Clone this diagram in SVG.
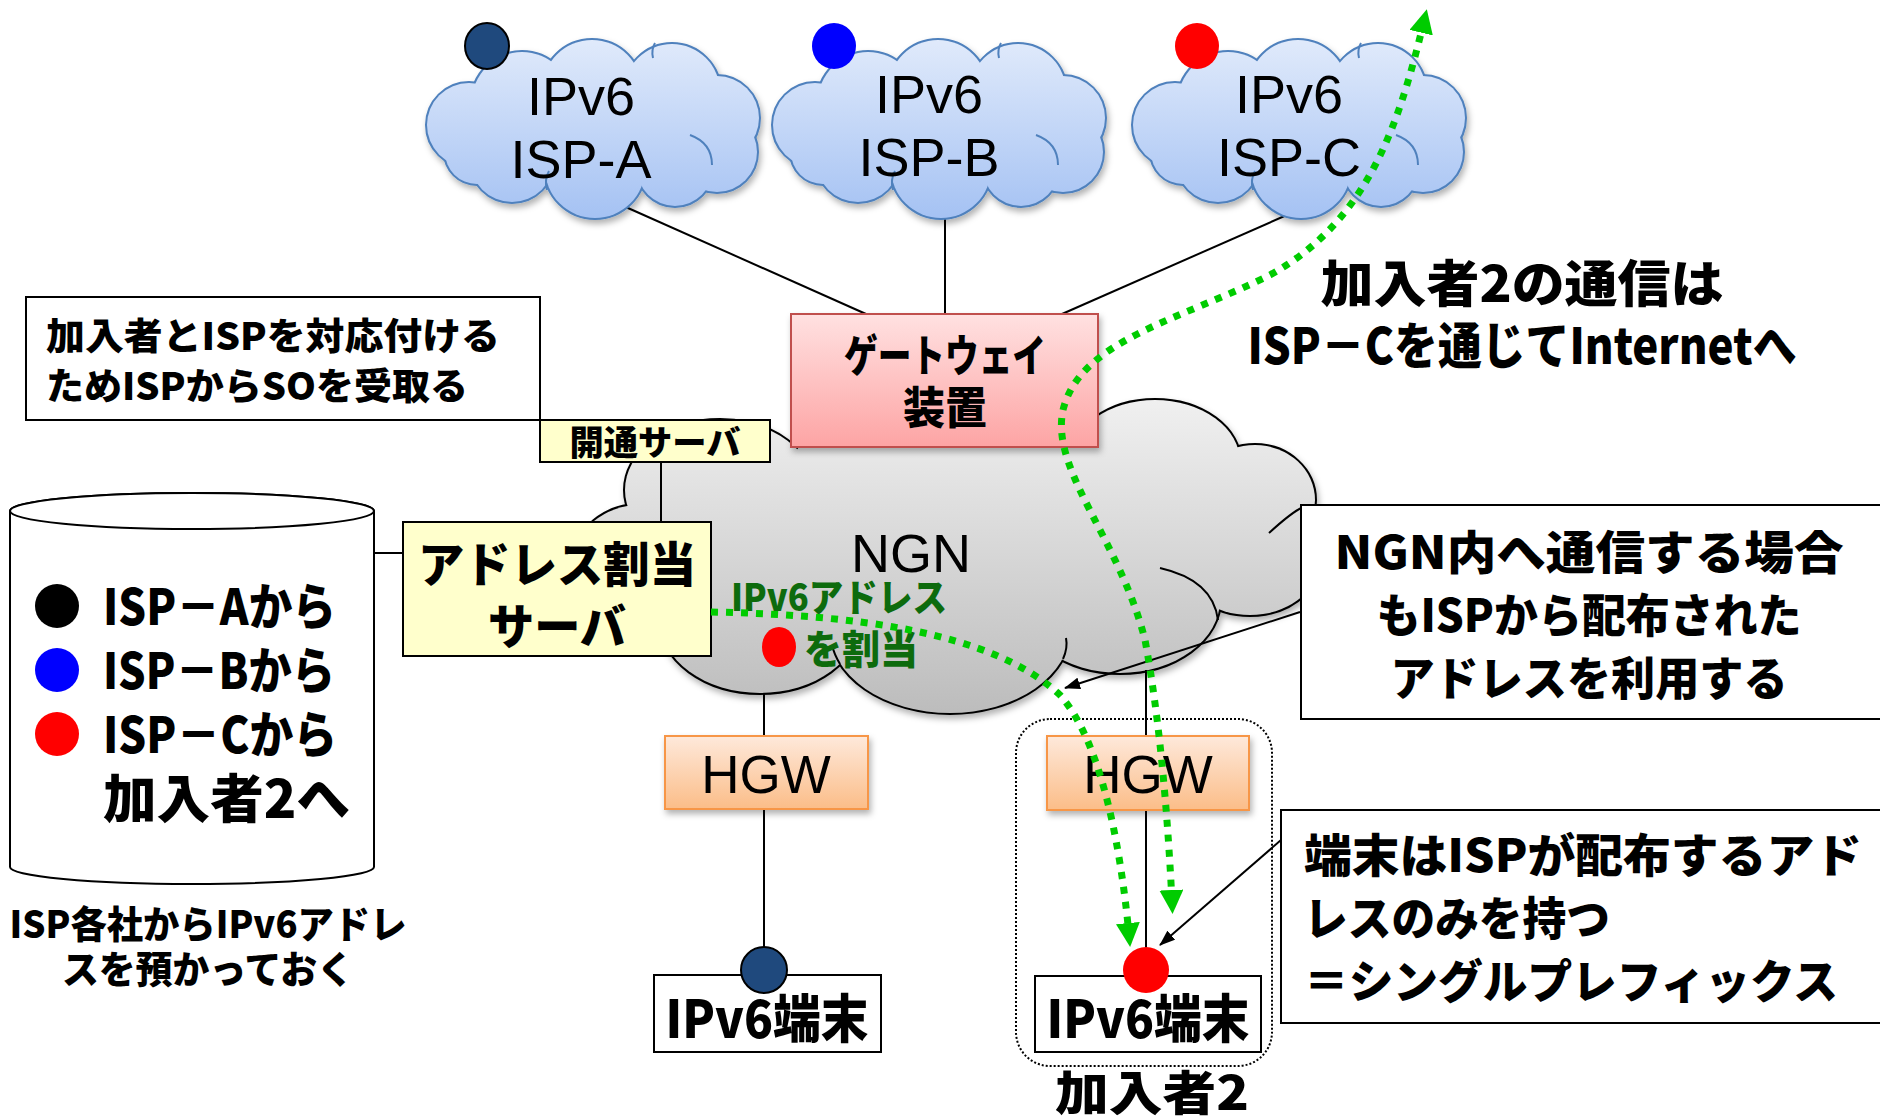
<svg xmlns="http://www.w3.org/2000/svg" xmlns:xlink="http://www.w3.org/1999/xlink" width="1880" height="1119" viewBox="0 0 1880 1119">
<style>
.jp{font-family:'Noto Sans CJK JP','Noto Sans CJK SC',sans-serif;font-weight:900;fill:#000}
.lat{font-family:'Liberation Sans',Arial,sans-serif;fill:#000}
.box{fill:#fff;stroke:#000;stroke-width:2}
.ybox{fill:#ffffcc;stroke:#000;stroke-width:2}
.ln{stroke:#000;stroke-width:2;fill:none}
.flow{fill:none;stroke:#00cc00;stroke-width:7;stroke-dasharray:7 8}
.inner{fill:none;stroke:#000;stroke-width:2}
.binner{fill:none;stroke:#4f81bd;stroke-width:2}
</style>
<defs>
<linearGradient id="gBlue" gradientUnits="userSpaceOnUse" x1="0" y1="0" x2="0" y2="178">
<stop offset="0" stop-color="#e0eafb"/><stop offset="1" stop-color="#a5c2f3"/></linearGradient>
<linearGradient id="gGray" gradientUnits="userSpaceOnUse" x1="0" y1="400" x2="0" y2="715">
<stop offset="0" stop-color="#f0f0f0"/><stop offset="1" stop-color="#bcbcbc"/></linearGradient>
<linearGradient id="gPink" x1="0" y1="0" x2="0" y2="1">
<stop offset="0" stop-color="#ffe1e1"/><stop offset="1" stop-color="#fda4a4"/></linearGradient>
<linearGradient id="gPeach" x1="0" y1="0" x2="0" y2="1">
<stop offset="0" stop-color="#fee9db"/><stop offset="1" stop-color="#fbbd88"/></linearGradient>
<filter id="sh" x="-10%" y="-10%" width="125%" height="135%">
<feDropShadow dx="2" dy="4" stdDeviation="3" flood-color="#000" flood-opacity="0.3"/></filter>
<marker id="gHead" viewBox="0 0 24 24" refX="12" refY="12" markerWidth="24" markerHeight="24" markerUnits="userSpaceOnUse" orient="auto-start-reverse">
<path d="M0,0 L24,12 L0,24 Z" fill="#00cc00"/></marker>
<marker id="bHead" viewBox="0 0 16 12" refX="15" refY="6" markerWidth="16" markerHeight="12" markerUnits="userSpaceOnUse" orient="auto">
<path d="M0,0 L16,6 L0,12 Z" fill="#000"/></marker>
<g id="ispCloud">
<g fill="none" stroke="#4f81bd" stroke-width="4">
<circle cx="42" cy="85" r="42"/><circle cx="95" cy="62" r="50"/><circle cx="165" cy="50" r="50"/>
<circle cx="245" cy="52" r="48"/><circle cx="290" cy="78" r="42"/><circle cx="290" cy="112" r="40"/>
<circle cx="248" cy="128" r="38"/><circle cx="168" cy="128" r="50"/><circle cx="85" cy="120" r="42"/>
<circle cx="50" cy="112" r="32"/>
</g>
<g fill="url(#gBlue)">
<circle cx="42" cy="85" r="42"/><circle cx="95" cy="62" r="50"/><circle cx="165" cy="50" r="50"/>
<circle cx="245" cy="52" r="48"/><circle cx="290" cy="78" r="42"/><circle cx="290" cy="112" r="40"/>
<circle cx="248" cy="128" r="38"/><circle cx="168" cy="128" r="50"/><circle cx="85" cy="120" r="42"/>
<circle cx="50" cy="112" r="32"/><circle cx="170" cy="90" r="70"/>
</g>
<path class="binner" d="M263,95 Q285,103 285,125"/>
<path class="binner" d="M120,150 Q117,140 122,131"/>
<path class="binner" d="M226,18 Q224,10 228,3"/>
</g>
</defs>

<!-- NGN cloud -->
<g id="ngn" filter="url(#sh)">
<g fill="none" stroke="#000" stroke-width="4">
<ellipse cx="640" cy="560" rx="65" ry="55"/><ellipse cx="720" cy="490" rx="95" ry="70"/>
<ellipse cx="950" cy="470" rx="160" ry="70"/><ellipse cx="1155" cy="462" rx="85" ry="62"/>
<ellipse cx="1255" cy="500" rx="60" ry="55"/><ellipse cx="1250" cy="565" rx="67" ry="50"/>
<ellipse cx="1120" cy="600" rx="100" ry="73"/><ellipse cx="950" cy="630" rx="120" ry="83"/>
<ellipse cx="760" cy="620" rx="100" ry="73"/>
</g>
<g fill="url(#gGray)">
<ellipse cx="640" cy="560" rx="65" ry="55"/><ellipse cx="720" cy="490" rx="95" ry="70"/>
<ellipse cx="950" cy="470" rx="160" ry="70"/><ellipse cx="1155" cy="462" rx="85" ry="62"/>
<ellipse cx="1255" cy="500" rx="60" ry="55"/><ellipse cx="1250" cy="565" rx="67" ry="50"/>
<ellipse cx="1120" cy="600" rx="100" ry="73"/><ellipse cx="950" cy="630" rx="120" ry="83"/>
<ellipse cx="760" cy="620" rx="100" ry="73"/><ellipse cx="950" cy="560" rx="250" ry="110"/>
<ellipse cx="1180" cy="540" rx="70" ry="50"/>
</g>
<path class="inner" d="M1160,568 Q1213,580 1218,620"/>
<path class="inner" d="M1269,533 Q1292,512 1303,507"/>
<path class="inner" d="M1063,659 Q1068,648 1066,638"/>
<path class="inner" d="M840,664 Q834,654 832,645"/>
<text class="lat" x="911" y="572" font-size="54" text-anchor="middle">NGN</text>
</g>

<!-- structural connectors -->
<g id="connectors" class="ln">
<line x1="610" y1="200" x2="866" y2="314"/>
<line x1="945" y1="200" x2="945" y2="314"/>
<line x1="1321" y1="200" x2="1062" y2="314"/>
<line x1="661" y1="462" x2="661" y2="522"/>
<line x1="374" y1="553" x2="403" y2="553"/>
<line x1="764" y1="693" x2="764" y2="736"/>
<line x1="764" y1="809" x2="764" y2="950"/>
<line x1="1146" y1="670" x2="1146" y2="736"/>
<line x1="1146" y1="810" x2="1146" y2="950"/>
</g>

<!-- ISP clouds -->
<g id="isp-a">
<use xlink:href="#ispCloud" href="#ispCloud" x="427" y="40" filter="url(#sh)"/>
<text class="lat" x="581" y="115" font-size="54" text-anchor="middle">IPv6</text>
<text class="lat" x="581" y="178" font-size="54" text-anchor="middle">ISP-A</text>
<ellipse cx="487" cy="46" rx="22" ry="23" fill="#1f497d" stroke="#000" stroke-width="2"/>
</g>
<g id="isp-b">
<use xlink:href="#ispCloud" href="#ispCloud" x="773" y="40" filter="url(#sh)"/>
<text class="lat" x="929" y="113" font-size="54" text-anchor="middle">IPv6</text>
<text class="lat" x="929" y="176" font-size="54" text-anchor="middle">ISP-B</text>
<ellipse cx="834" cy="46" rx="22" ry="23" fill="#0000ff"/>
</g>
<g id="isp-c">
<use xlink:href="#ispCloud" href="#ispCloud" x="1133" y="40" filter="url(#sh)"/>
<text class="lat" x="1289" y="113" font-size="54" text-anchor="middle">IPv6</text>
<text class="lat" x="1289" y="176" font-size="54" text-anchor="middle">ISP-C</text>
<ellipse cx="1197" cy="46" rx="22" ry="23" fill="#ff0000"/>
</g>

<!-- gateway -->
<g id="gateway">
<rect x="791" y="314" width="307" height="133" fill="url(#gPink)" stroke="#c0504d" stroke-width="2" filter="url(#sh)"/>
<text class="jp" x="945" y="372" font-size="44" text-anchor="middle" textLength="202" lengthAdjust="spacingAndGlyphs">ゲートウェイ</text>
<text class="jp" x="945" y="424" font-size="44" text-anchor="middle" textLength="84" lengthAdjust="spacingAndGlyphs">装置</text>
</g>

<!-- callout: SO -->
<g id="note-so">
<rect class="box" x="26" y="297" width="514" height="123"/>
<text class="jp" x="46" y="350" font-size="37" textLength="454" lengthAdjust="spacingAndGlyphs">加入者とISPを対応付ける</text>
<text class="jp" x="46" y="400" font-size="37" textLength="422" lengthAdjust="spacingAndGlyphs">ためISPからSOを受取る</text>
</g>

<!-- provisioning server -->
<g id="kaitsu-server">
<rect class="ybox" x="540" y="420" width="230" height="42"/>
<text class="jp" x="655" y="455" font-size="34" text-anchor="middle" textLength="171" lengthAdjust="spacingAndGlyphs">開通サーバ</text>
</g>

<!-- address allocation server -->
<g id="addr-server">
<rect class="ybox" x="403" y="522" width="308" height="134"/>
<text class="jp" x="557" y="582" font-size="48" text-anchor="middle" textLength="278" lengthAdjust="spacingAndGlyphs">アドレス割当</text>
<text class="jp" x="557" y="644" font-size="48" text-anchor="middle" textLength="138" lengthAdjust="spacingAndGlyphs">サーバ</text>
</g>

<!-- address pool cylinder -->
<g id="addr-pool">
<path d="M10,511 L10,867 A182,17 0 0 0 374,867 L374,511 A182,18 0 0 0 10,511 Z" fill="#fff" stroke="#000" stroke-width="2"/>
<ellipse cx="192" cy="511" rx="182" ry="18" fill="#fff" stroke="#000" stroke-width="2"/>
<circle cx="57" cy="606" r="22" fill="#000"/>
<circle cx="57" cy="670" r="22" fill="#0000ff"/>
<circle cx="57" cy="734" r="22" fill="#ff0000"/>
<text class="jp" x="103" y="625" font-size="50" textLength="233" lengthAdjust="spacingAndGlyphs">ISP－Aから</text>
<text class="jp" x="103" y="689" font-size="50" textLength="232" lengthAdjust="spacingAndGlyphs">ISP－Bから</text>
<text class="jp" x="103" y="753" font-size="50" textLength="234" lengthAdjust="spacingAndGlyphs">ISP－Cから</text>
<text class="jp" x="103" y="818" font-size="52" textLength="247" lengthAdjust="spacingAndGlyphs">加入者2へ</text>
<text class="jp" x="208" y="938" font-size="38" text-anchor="middle" textLength="397" lengthAdjust="spacingAndGlyphs">ISP各社からIPv6アドレ</text>
<text class="jp" x="208" y="983" font-size="38" text-anchor="middle" textLength="292" lengthAdjust="spacingAndGlyphs">スを預かっておく</text>
</g>

<!-- allocation label -->
<g id="alloc-label">
<text class="jp" x="731" y="611" font-size="38" style="fill:#0d6b0d" textLength="216" lengthAdjust="spacingAndGlyphs">IPv6アドレス</text>
<ellipse cx="779" cy="647" rx="17" ry="20" fill="#ff0000"/>
<text class="jp" x="804" y="664" font-size="40" style="fill:#0d6b0d" textLength="114" lengthAdjust="spacingAndGlyphs">を割当</text>
</g>

<!-- subscriber 1 -->
<g id="hgw-1">
<rect x="665" y="736" width="203" height="73" fill="url(#gPeach)" stroke="#f79646" stroke-width="2" filter="url(#sh)"/>
<text class="lat" x="766" y="793" font-size="53" text-anchor="middle">HGW</text>
</g>
<g id="term-1">
<rect class="box" x="654" y="975" width="227" height="77"/>
<text class="jp" x="767" y="1038" font-size="52" text-anchor="middle" textLength="203" lengthAdjust="spacingAndGlyphs">IPv6端末</text>
<ellipse cx="764" cy="970" rx="23" ry="23" fill="#1f497d" stroke="#000" stroke-width="2"/>
</g>

<!-- subscriber 2 -->
<g id="subscriber-2">
<rect x="1016" y="719" width="256" height="347" rx="34" fill="none" stroke="#000" stroke-width="2" stroke-dasharray="2 2"/>
<text class="jp" x="1152" y="1110" font-size="47" text-anchor="middle" textLength="194" lengthAdjust="spacingAndGlyphs">加入者2</text>
</g>
<g id="hgw-2">
<rect x="1047" y="736" width="202" height="74" fill="url(#gPeach)" stroke="#f79646" stroke-width="2" filter="url(#sh)"/>
<text class="lat" x="1148" y="793" font-size="53" text-anchor="middle">HGW</text>
</g>
<g id="term-2">
<rect class="box" x="1035" y="976" width="226" height="76"/>
<text class="jp" x="1148" y="1038" font-size="52" text-anchor="middle" textLength="203" lengthAdjust="spacingAndGlyphs">IPv6端末</text>
<ellipse cx="1146" cy="970" rx="23" ry="23" fill="#ff0000"/>
</g>

<!-- notes right -->
<g id="note-internet">
<text class="jp" x="1522" y="302" font-size="50" text-anchor="middle" textLength="403" lengthAdjust="spacingAndGlyphs">加入者2の通信は</text>
<text class="jp" x="1522" y="364" font-size="50" text-anchor="middle" textLength="549" lengthAdjust="spacingAndGlyphs">ISP－Cを通じてInternetへ</text>
</g>
<g id="note-ngn">
<rect class="box" x="1301" y="505" width="590" height="214"/>
<text class="jp" x="1589" y="569" font-size="46" text-anchor="middle" textLength="509" lengthAdjust="spacingAndGlyphs">NGN内へ通信する場合</text>
<text class="jp" x="1589" y="632" font-size="46" text-anchor="middle" textLength="425" lengthAdjust="spacingAndGlyphs">もISPから配布された</text>
<text class="jp" x="1589" y="695" font-size="46" text-anchor="middle" textLength="397" lengthAdjust="spacingAndGlyphs">アドレスを利用する</text>
</g>
<g id="note-prefix">
<rect class="box" x="1281" y="810" width="610" height="213"/>
<text class="jp" x="1304" y="872" font-size="46" textLength="558" lengthAdjust="spacingAndGlyphs">端末はISPが配布するアド</text>
<text class="jp" x="1304" y="935" font-size="46" textLength="306" lengthAdjust="spacingAndGlyphs">レスのみを持つ</text>
<text class="jp" x="1304" y="998" font-size="46" textLength="534" lengthAdjust="spacingAndGlyphs">＝シングルプレフィックス</text>
</g>

<!-- annotation arrows -->
<g id="note-arrows" class="ln">
<line x1="1300" y1="612" x2="1065" y2="688" marker-end="url(#bHead)"/>
<line x1="1281" y1="840" x2="1160" y2="945" marker-end="url(#bHead)"/>
</g>

<!-- traffic flows -->
<g id="flows">
<path class="flow" d="M711,612 C850,615 990,630 1060,695 C1100,740 1120,840 1129,935" marker-end="url(#gHead)"/>
<path class="flow" d="M1424,21 C1400,120 1370,220 1270,275 C1180,320 1080,340 1063,410 C1050,470 1120,540 1145,640 C1160,720 1168,820 1172,902" marker-start="url(#gHead)" marker-end="url(#gHead)"/>
</g>
</svg>
